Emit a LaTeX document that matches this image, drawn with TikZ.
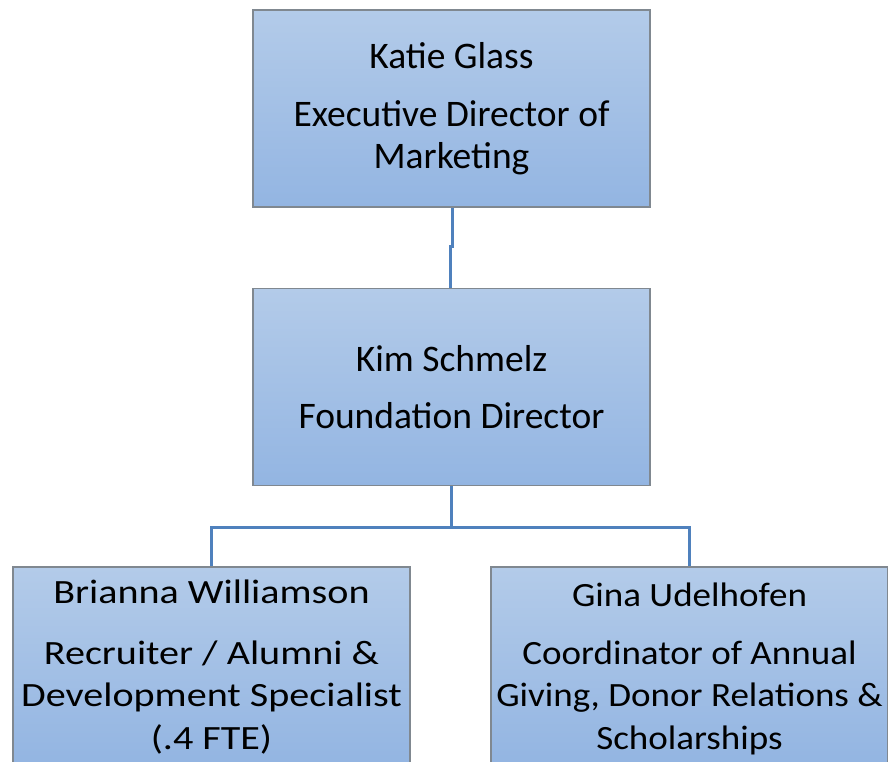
\documentclass[tikz,border=0pt]{standalone}
\usepackage{fontspec}
\setmainfont{Carlito}
\newfontfamily\widefont[FakeStretch=1.18]{Carlito}
\newfontfamily\midwidefont[FakeStretch=1.09]{Carlito}
\definecolor{boxtop}{HTML}{B3CBE9}
\definecolor{boxbot}{HTML}{93B5E2}
\definecolor{boxline}{HTML}{808890}
\definecolor{conn}{HTML}{4F81BD}
\tikzset{
  orgbox/.style={rectangle, draw=boxline, line width=1.5pt, top color=boxtop, bottom color=boxbot,
    minimum width=397pt, minimum height=197pt, inner sep=0pt},
  orgtext/.style={align=center, font=\fontsize{37.5}{42}\selectfont, text=black, inner sep=0pt},
  orgtextwide/.style={align=center, font=\widefont\fontsize{34}{42.5}\selectfont, text=black, inner sep=0pt},
  orgtextmid/.style={align=center, font=\midwidefont\fontsize{34}{42.5}\selectfont, text=black, inner sep=0pt},
  link/.style={draw=conn, line width=3pt}
}
\begin{document}
\begin{tikzpicture}[x=1pt,y=-1pt]
\useasboundingbox (0,0) rectangle (888,762);
\clip (0,0) rectangle (888,762);
\node[orgbox] (top) at (451.5,108.5) {};
\node[orgbox] (mid) at (451.5,387) {};
\node[orgbox] (bl) at (211.5,665.5) {};
\node[orgbox] (br) at (689.5,665.5) {};
\node[orgtext] (ttop) at (top.center) {Katie Glass\\[16pt]Executive Director of\\Marketing};
\node[orgtext] (tmid) at (mid.center) {Kim Schmelz\\[15pt]Foundation Director};
\node[orgtextwide] (tbl) at ([yshift=-1.5pt]bl.center) {Brianna Williamson\\[18pt]Recruiter / Alumni \&\\Development Specialist\\(.4 FTE)};
\node[orgtextmid] (tbr) at ([yshift=-3.5pt]br.center) {Gina Udelhofen\\[15pt]Coordinator of Annual\\Giving, Donor Relations \&\\Scholarships};
\draw[link] ([xshift=0.5pt]top.south) -- ++(0,39) coordinate (jog) -| ([xshift=-1.5pt]mid.north);
\draw[link] (mid.south) -- ++(0,41) coordinate (bus);
\draw[link] (bus) -| (bl.north);
\draw[link] (bus) -| (br.north);
\end{tikzpicture}
\end{document}
